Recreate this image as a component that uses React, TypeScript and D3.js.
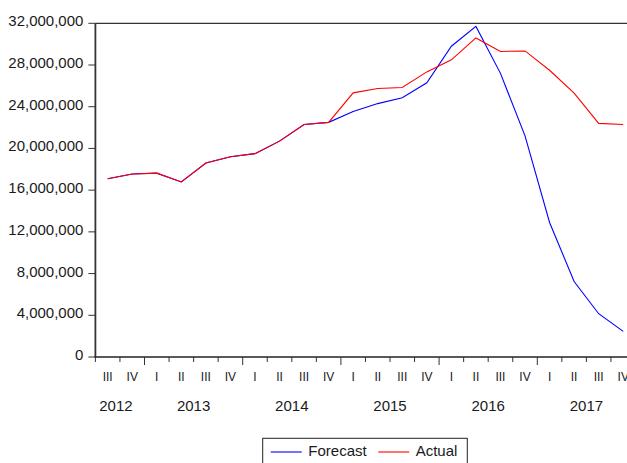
import React, { useEffect, useRef } from "react";
import * as d3 from "d3";

// quarters from 2012 Q3 to 2017 Q4
const quarters = [
  "III", "IV",
  "I", "II", "III", "IV",
  "I", "II", "III", "IV",
  "I", "II", "III", "IV",
  "I", "II", "III", "IV",
  "I", "II", "III", "IV",
];
const years = ["2012", "2013", "2014", "2015", "2016", "2017"];
// how many quarters each year has on the axis
const yearQuarters = [2, 4, 4, 4, 4, 4];

const forecast = [
  17100000, 17550000, 17630000, 16790000, 18600000, 19200000, 19500000, 20700000,
  22300000, 22500000, 23550000, 24300000, 24860000, 26300000, 29800000, 31700000,
  27200000, 21200000, 12900000, 7240000, 4150000, 2460000,
];
const actual = [
  17100000, 17550000, 17630000, 16790000, 18600000, 19200000, 19500000, 20700000,
  22300000, 22500000, 25330000, 25750000, 25850000, 27340000, 28500000, 30600000,
  29300000, 29350000, 27500000, 25300000, 22400000, 22300000,
];
const yTicks = [0, 4000000, 8000000, 12000000, 16000000, 20000000, 24000000, 28000000, 32000000];

const App = () => {
  const chart = useRef<SVGSVGElement>(null);

  useEffect(() => {
    document.body.style.margin = "0";
    const width = 627;
    const height = 463;
    const left = 95.4;
    const top = 23.3;
    const bottom = 357;
    const qWidth = 24.55;
    const font = "'Liberation Sans', Arial, sans-serif";

    const svg = d3.select(chart.current).attr("width", width).attr("height", height);
    svg.selectAll("*").remove();

    const x = d3.scaleLinear().domain([0, quarters.length]).range([left, left + quarters.length * qWidth]);
    const y = d3.scaleLinear().domain([0, 32000000]).range([bottom, top]);

    // frame: top border and axes
    svg.append("line")
      .attr("x1", left).attr("x2", x(quarters.length))
      .attr("y1", top).attr("y2", top)
      .attr("stroke", "#000").attr("stroke-width", 1);
    svg.append("line")
      .attr("x1", left).attr("x2", left)
      .attr("y1", top).attr("y2", bottom)
      .attr("stroke", "#333").attr("stroke-width", 1.8);
    svg.append("line")
      .attr("x1", left - 1).attr("x2", x(quarters.length))
      .attr("y1", bottom).attr("y2", bottom)
      .attr("stroke", "#222").attr("stroke-width", 1.5);

    // y axis
    const yg = svg.append("g");
    yTicks.forEach((t) => {
      yg.append("line")
        .attr("x1", left - 7).attr("x2", left)
        .attr("y1", y(t)).attr("y2", y(t))
        .attr("stroke", "#333").attr("stroke-width", 1);
      yg.append("text")
        .attr("x", left - 12)
        .attr("y", y(t) + 3)
        .attr("text-anchor", "end")
        .attr("font-family", font)
        .attr("font-size", 15)
        .attr("fill", "#1a1a1a")
        .text(d3.format(",")(t));
    });

    // x axis ticks and quarter labels
    const xg = svg.append("g");
    let idx = 0;
    const yearStarts: number[] = [];
    yearQuarters.forEach((n) => {
      yearStarts.push(idx);
      idx += n;
    });
    d3.range(quarters.length + 1).forEach((i) => {
      const major = yearStarts.includes(i) && i > 0;
      xg.append("line")
        .attr("x1", x(i)).attr("x2", x(i))
        .attr("y1", bottom).attr("y2", bottom + (major ? 8 : 5))
        .attr("stroke", "#333").attr("stroke-width", 1);
    });
    quarters.forEach((q, i) => {
      xg.append("text")
        .attr("x", x(i + 0.5))
        .attr("y", 380.5)
        .attr("text-anchor", "middle")
        .attr("font-family", font)
        .attr("font-size", 12)
        .attr("fill", "#1a1a1a")
        .text(q);
    });
    years.forEach((yr, k) => {
      const s = yearStarts[k];
      const e = s + yearQuarters[k];
      let cx = x((s + e) / 2);
      if (yearQuarters[k] < 4) cx -= 4;
      xg.append("text")
        .attr("x", cx)
        .attr("y", 411)
        .attr("text-anchor", "middle")
        .attr("font-family", font)
        .attr("font-size", 15)
        .attr("fill", "#1a1a1a")
        .text(yr);
    });

    // lines
    const line = d3.line<number>()
      .x((d, i) => x(i + 0.5))
      .y((d) => y(d));
    svg.append("path")
      .datum(forecast)
      .attr("d", line)
      .attr("fill", "none")
      .attr("stroke", "#0000ff")
      .attr("stroke-width", 1.1);
    svg.append("path")
      .datum(actual)
      .attr("d", line)
      .attr("fill", "none")
      .attr("stroke", "#ff0000")
      .attr("stroke-width", 1.1);

    // legend
    const lg = svg.append("g");
    lg.append("rect")
      .attr("x", 262.7).attr("y", 438.3)
      .attr("width", 204.6).attr("height", 30)
      .attr("fill", "#fff").attr("stroke", "#222").attr("stroke-width", 1);
    const items = [
      { name: "Forecast", color: "#0000ff", x0: 270.7, tx: 308.3 },
      { name: "Actual", color: "#ff0000", x0: 378.3, tx: 415.7 },
    ];
    items.forEach((it) => {
      lg.append("line")
        .attr("x1", it.x0).attr("x2", it.x0 + 31)
        .attr("y1", 452).attr("y2", 452)
        .attr("stroke", it.color).attr("stroke-width", 1.1);
      lg.append("text")
        .attr("x", it.tx)
        .attr("y", 455.5)
        .attr("font-family", font)
        .attr("font-size", 15)
        .attr("fill", "#1a1a1a")
        .text(it.name);
    });
  }, []);

  return (
    <div>
      <svg ref={chart} style={{ display: "block" }}></svg>
    </div>
  );
};

export default App;
